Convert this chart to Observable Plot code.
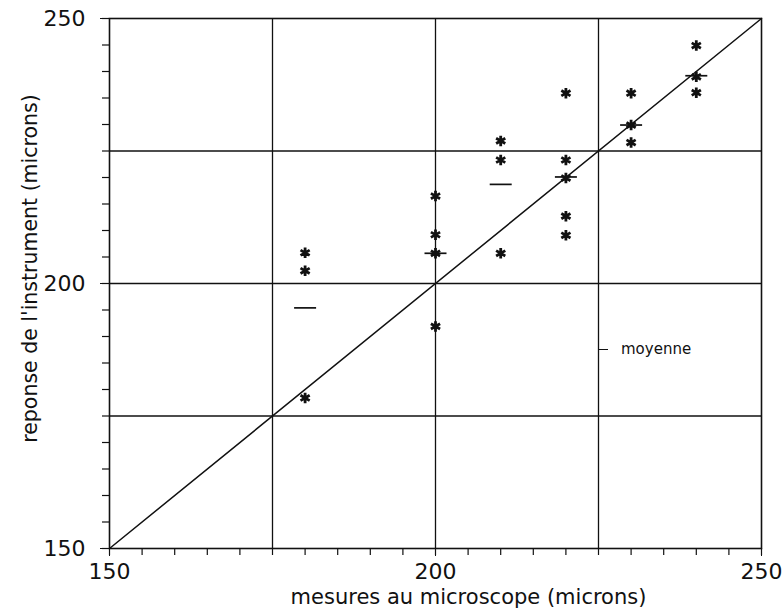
<!DOCTYPE html>
<html>
<head>
<meta charset="utf-8">
<script src="https://cdn.jsdelivr.net/npm/d3@7"></script>
<script src="https://cdn.jsdelivr.net/npm/@observablehq/plot@0.6"></script>
<style>
  html, body { margin: 0; padding: 0; background: #fff; }
  #wrap { position: relative; width: 783px; height: 616px; }
  #legend { position: absolute; left: 599px; top: 340px; font-family: "DejaVu Sans", sans-serif; font-size: 15px; color: #111; display: flex; align-items: center; }
  #legend .dash { display: inline-block; width: 9px; height: 0; border-top: 1.6px solid #111; margin-right: 13px; }
</style>
</head>
<body>
<div id="wrap"><div id="legend"><span class="dash"></span><span>moyenne</span></div></div>
<script>
// Data
const xCategories = [180, 200, 210, 220, 230, 240];
const responses = [
  [205.8, 202.4, 178.4],
  [216.5, 209.2, 205.7, 191.9],
  [226.9, 223.3, 205.7],
  [235.9, 223.3, 219.9, 212.7, 209.1],
  [235.9, 229.9, 226.6],
  [244.9, 239.0, 236.0]
];
const means = [195.4, 205.7, 218.7, 220.1, 229.9, 239.2];
const majorTicks = [150, 200, 250];
const minorTicks = d3.range(150, 251, 5);
const gridValues = [175, 200, 225];
const identityLine = [150, 250];
const xTitle = ["mesures au microscope (microns)"];
const yTitle = ["reponse de l'instrument (microns)"];

const points = xCategories.flatMap((x, i) => responses[i].map(y => ({x, y})));
const meanRows = xCategories.map((x, i) => ({x, y: means[i]}));

const dashSymbol = {
  draw(context, size) {
    const w = Math.sqrt(size / Math.PI);
    context.moveTo(-w, 0);
    context.lineTo(w, 0);
  }
};

const font = "DejaVu Sans, sans-serif";

const chart = Plot.plot({
  width: 783,
  height: 616,
  marginLeft: 109,
  marginRight: 22,
  marginTop: 18,
  marginBottom: 68,
  style: { fontFamily: font, background: "white", color: "#111" },
  x: { domain: [150, 250] },
  y: { domain: [150, 250] },
  marks: [
    Plot.ruleX(gridValues, { stroke: "#111", strokeWidth: 1.3 }),
    Plot.ruleY(gridValues, { stroke: "#111", strokeWidth: 1.3 }),
    Plot.line(identityLine, { x: d => d, y: d => d, stroke: "#111", strokeWidth: 1.5 }),
    Plot.frame({ stroke: "#111", strokeWidth: 1.6 }),
    Plot.axisX({ ticks: minorTicks, tickSize: 7, tickFormat: () => "", label: null, strokeWidth: 1.2 }),
    Plot.axisX({ ticks: majorTicks, tickSize: 8, tickPadding: 7, fontSize: 22, label: null }),
    Plot.axisY({ ticks: minorTicks, tickSize: 7, tickFormat: () => "", label: null, strokeWidth: 1.2 }),
    Plot.axisY({ ticks: majorTicks, tickSize: 9, tickPadding: 15, fontSize: 22, label: null }),
    Plot.text(xTitle, { frameAnchor: "bottom", dy: 55, dx: 33, fontSize: 21, fill: "#111" }),
    Plot.text(yTitle, { frameAnchor: "left", textAnchor: "middle", dx: -79, dy: -15, rotate: -90, fontSize: 20.5, fill: "#111" }),
    Plot.dot(meanRows, { x: "x", y: "y", symbol: dashSymbol, r: 11, stroke: "#111", strokeWidth: 1.7 }),
    Plot.dot(points, { x: "x", y: "y", symbol: "asterisk", r: 5, stroke: "#111", strokeWidth: 2.8 })
  ]
});
document.getElementById("wrap").prepend(chart);
</script>
</body>
</html>
